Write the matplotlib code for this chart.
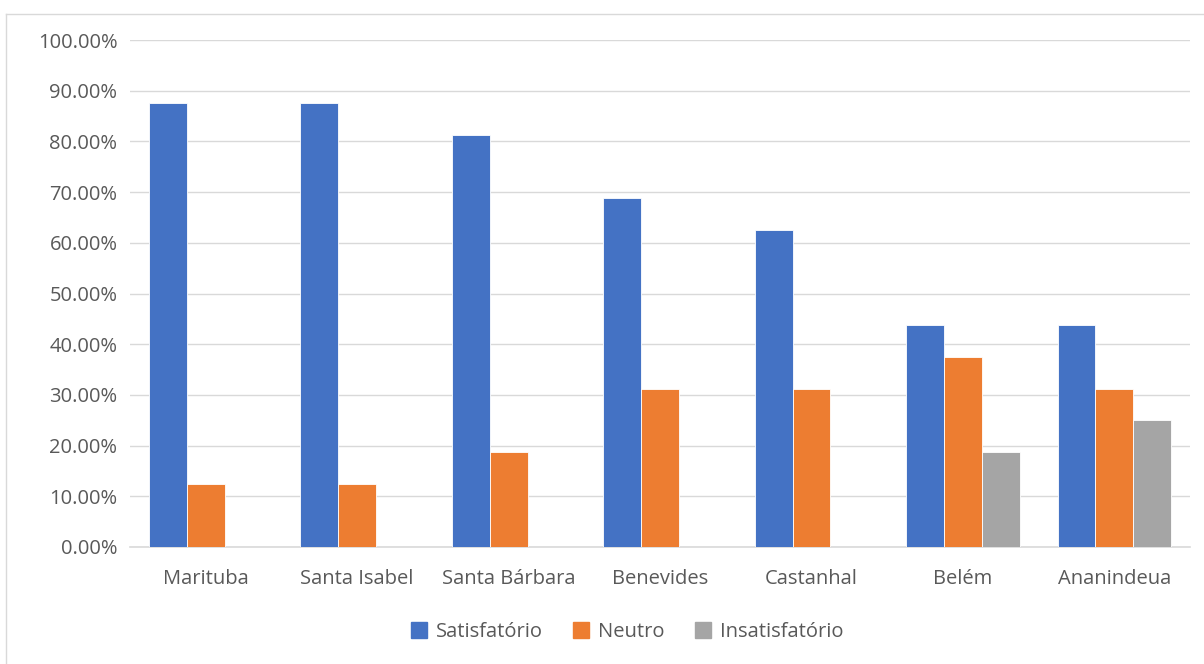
import matplotlib
matplotlib.use("Agg")
import matplotlib.pyplot as plt
import numpy as np
from matplotlib.ticker import FuncFormatter
from matplotlib.patches import Rectangle
from matplotlib.lines import Line2D

categories = ["Marituba", "Santa Isabel", "Santa Bárbara", "Benevides", "Castanhal", "Belém", "Ananindeua"]
satisfatorio = [87.5, 87.5, 81.25, 68.75, 62.5, 43.75, 43.75]
neutro = [12.5, 12.5, 18.75, 31.25, 31.25, 37.5, 31.25]
insatisfatorio = [0, 0, 0, 0, 0, 18.75, 25.0]
series_names = ["Satisfatório", "Neutro", "Insatisfatório"]
colors = ["#4472C4", "#ED7D31", "#A5A5A5"]

plt.rcParams['font.family'] = ['Open Sans', 'DejaVu Sans']

W, H = 1204, 664
fig = plt.figure(figsize=(W/100, H/100), dpi=100)
ax = fig.add_axes([130/W, 1-547/H, (1190-130)/W, (547-40)/H])

x = np.arange(len(categories))
bw = 0.25
for i, (vals, name, c) in enumerate(zip([satisfatorio, neutro, insatisfatorio], series_names, colors)):
    ax.bar(x + (i-1)*bw, vals, width=bw, color=c, edgecolor="white", linewidth=0.6, label=name, zorder=3)

fs = 14.5
ax.set_xlim(-0.5, len(categories)-0.5)
ax.set_ylim(0, 100)
ax.set_yticks(np.arange(0, 101, 10))
ax.yaxis.set_major_formatter(FuncFormatter(lambda v, p: f"{v:.2f}%"))
ax.set_xticks(x)
ax.set_xticklabels(categories)
ax.tick_params(axis='both', length=0, labelsize=fs, colors="#595959")
ax.tick_params(axis='y', pad=9)
ax.tick_params(axis='x', pad=16)
ax.grid(axis='y', color="#D9D9D9", linewidth=1, zorder=0)
for s in ["top", "right", "left"]:
    ax.spines[s].set_visible(False)
ax.spines["bottom"].set_color("#D9D9D9")
ax.spines["bottom"].set_linewidth(1.2)

handles = [Rectangle((0, 0), 1, 1, color=c) for c in colors]
fig.legend(handles, series_names, loc="center", bbox_to_anchor=(627/W, 1-632/H), ncol=3,
           frameon=False, fontsize=fs, labelcolor="#595959", handlelength=0.8, handleheight=0.8,
           handletextpad=0.45, columnspacing=1.5)

# chart frame
fig.add_artist(Line2D([6/W, 6/W], [0, 1-14/H], color="#D9D9D9", linewidth=1, transform=fig.transFigure))
fig.add_artist(Line2D([6/W, 1], [1-14/H, 1-14/H], color="#D9D9D9", linewidth=1, transform=fig.transFigure))

fig.savefig("out.png", dpi=100)
